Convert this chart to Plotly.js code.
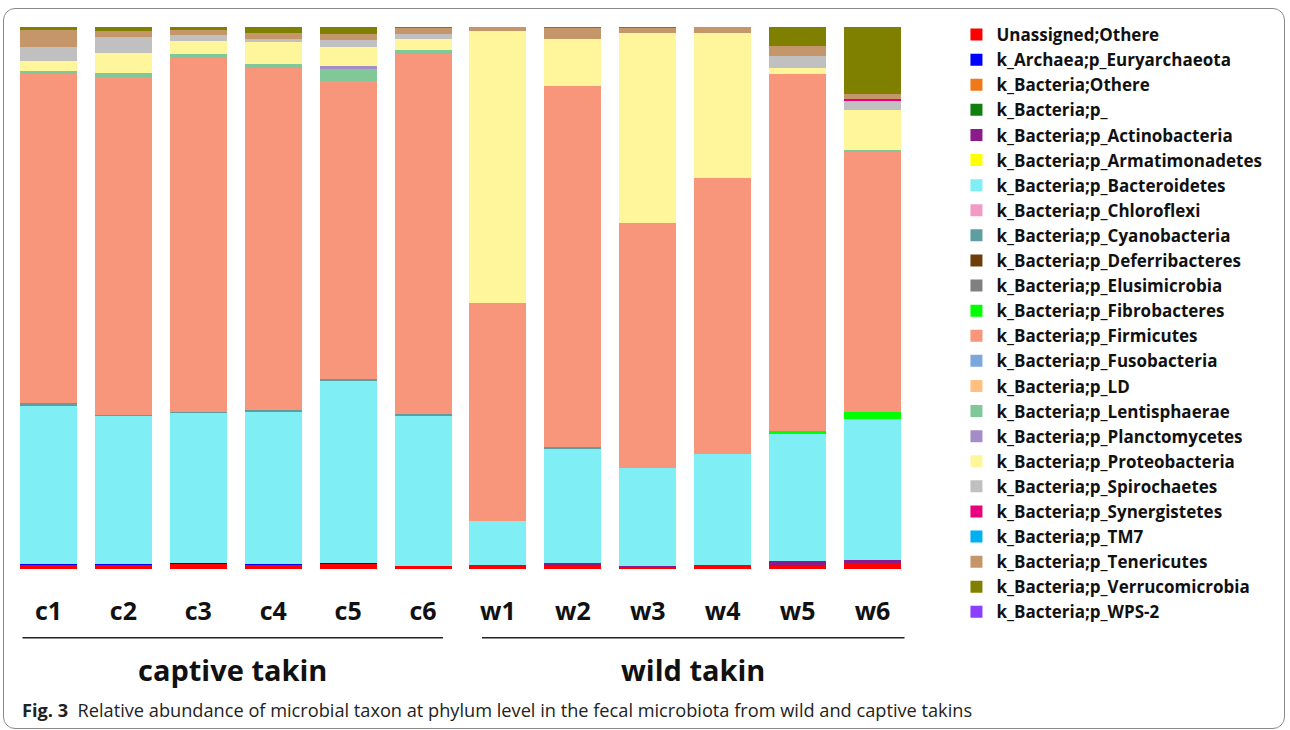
<!DOCTYPE html>
<html>
<head>
<meta charset="utf-8">
<script src="https://cdn.plot.ly/plotly-3.0.1.min.js"></script>
<style>
  html, body { margin: 0; padding: 0; background: #fff; }
  #wrap { position: relative; width: 1290px; height: 730px; }
  #chart { position: absolute; left: 0; top: 0; width: 1290px; height: 730px; }
  #frame { position: absolute; left: 3px; top: 8px; width: 1282px; height: 721px;
           border: 1.5px solid #8a8a8a; border-radius: 12px; box-sizing: border-box; pointer-events: none; }
</style>
</head>
<body>
<div id="wrap">
  <div id="chart"></div>
  <div id="frame"></div>
</div>
<script>
const samples = ['c1','c2','c3','c4','c5','c6','w1','w2','w3','w4','w5','w6'];

const taxa = [
  'Unassigned;Othere',
  'k_Archaea;p_Euryarchaeota',
  'k_Bacteria;Othere',
  'k_Bacteria;p_',
  'k_Bacteria;p_Actinobacteria',
  'k_Bacteria;p_Armatimonadetes',
  'k_Bacteria;p_Bacteroidetes',
  'k_Bacteria;p_Chloroflexi',
  'k_Bacteria;p_Cyanobacteria',
  'k_Bacteria;p_Deferribacteres',
  'k_Bacteria;p_Elusimicrobia',
  'k_Bacteria;p_Fibrobacteres',
  'k_Bacteria;p_Firmicutes',
  'k_Bacteria;p_Fusobacteria',
  'k_Bacteria;p_LD',
  'k_Bacteria;p_Lentisphaerae',
  'k_Bacteria;p_Planctomycetes',
  'k_Bacteria;p_Proteobacteria',
  'k_Bacteria;p_Spirochaetes',
  'k_Bacteria;p_Synergistetes',
  'k_Bacteria;p_TM7',
  'k_Bacteria;p_Tenericutes',
  'k_Bacteria;p_Verrucomicrobia',
  'k_Bacteria;p_WPS-2'
];

const taxaColors = [
  '#ff0000','#0000ff','#f07818','#107f10','#8b1a8b','#ffff00','#7feef5','#f29ac4',
  '#5f9ea0','#6b3e0b','#808080','#00ff00','#f7967a','#7ba7de','#ffc080','#80c898',
  '#a48cc8','#fff59a','#c0c0c0','#e8007e','#00b0f0','#c4966a','#808000','#8a3fff'
];

// relative abundance (%) per sample, order c1..c6, w1..w6
const unassigned      = [0.65,0.65,1.0,0.8,0.85,0.6, 0.6,0.55,0.2,0.5,0.55,1.1];
const euryarchaeota   = [0.2,0.2,0.2,0.2,0.3,0, 0,0,0,0,0,0];
const bacteriaOthere  = [0,0,0,0,0,0, 0,0,0,0,0,0];
const bacteriaP       = [0,0,0,0,0,0, 0,0,0,0,0,0];
const actinobacteria  = [0,0,0,0,0,0, 0.2,0.55,0.3,0.2,0.85,0.6];
const armatimonadetes = [0,0,0,0,0,0, 0,0,0,0,0,0];
const bacteroidetes   = [29.3,27.3,27.5,28.0,33.6,27.7, 8.1,21.1,18.15,20.5,23.55,26.0];
const chloroflexi     = [0,0,0,0,0,0, 0,0,0,0,0,0];
const cyanobacteria   = [0.45,0.3,0.3,0.35,0.35,0.3, 0,0.3,0,0,0,0];
const deferribacteres = [0,0,0,0,0,0, 0,0,0,0,0,0];
const elusimicrobia   = [0,0,0,0,0,0, 0,0,0,0,0,0];
const fibrobacteres   = [0,0,0,0,0,0, 0,0,0,0,0.6,1.35];
const firmicutes      = [60.7,62.4,65.2,63.15,54.9,66.35, 40.2,66.6,45.1,50.9,65.7,47.8];
const fusobacteria    = [0,0,0,0,0,0, 0,0,0,0,0,0];
const ld              = [0,0,0,0,0,0, 0,0,0,0,0,0];
const lentisphaerae   = [0.55,0.7,0.8,0.7,2.3,0.85, 0,0,0,0,0,0.5];
const planctomycetes  = [0,0,0,0,0.5,0, 0,0,0,0,0,0];
const proteobacteria  = [1.9,3.7,2.45,4.0,3.45,2.0, 50.1,8.6,35.2,26.8,1.2,7.4];
const spirochaetes    = [2.6,2.9,1.05,0.55,1.3,0.9, 0,0,0,0,2.2,1.65];
const synergistetes   = [0,0,0,0,0,0, 0,0,0,0,0,0.4];
const tm7             = [0,0,0,0,0,0, 0,0,0,0,0,0];
const tenericutes     = [3.1,1.05,0.9,1.2,1.1,1.15, 0.8,2.1,0.85,1.1,1.85,0.85];
const verrucomicrobia = [0.6,0.8,0.6,1.05,1.35,0.2, 0,0.2,0.2,0,3.5,12.4];
const wps2            = [0,0,0,0,0,0, 0,0,0,0,0,0];

const seriesValues = [unassigned, euryarchaeota, bacteriaOthere, bacteriaP, actinobacteria,
  armatimonadetes, bacteroidetes, chloroflexi, cyanobacteria, deferribacteres, elusimicrobia,
  fibrobacteres, firmicutes, fusobacteria, ld, lentisphaerae, planctomycetes, proteobacteria,
  spirochaetes, synergistetes, tm7, tenericutes, verrucomicrobia, wps2];

const groupLabels = ['captive takin', 'wild takin'];
const captionBold = 'Fig. 3';
const captionText = 'Relative abundance of microbial taxon at phylum level in the fecal microbiota from wild and captive takins';

const traces = taxa.map((name, i) => ({
  type: 'bar',
  name: name,
  x: samples,
  y: seriesValues[i],
  marker: { color: taxaColors[i], line: { width: 0 } },
  hoverinfo: 'x+y+name'
}));

// pixel helpers for the plot area
const W = 1290, H = 730;
const L = 10.5, R = 910.5, T = 27, B = 569.3;
const px = v => (v - L) / (R - L);
const py = v => (B - v) / (B - T);

const layout = {
  width: W, height: H,
  paper_bgcolor: '#ffffff',
  plot_bgcolor: '#ffffff',
  barmode: 'stack',
  bargap: 0.24,
  margin: { l: L, r: W - R, t: T, b: H - B, pad: 0, autoexpand: false },
  font: { family: 'Open Sans, Noto Sans, sans-serif', color: '#111' },
  xaxis: {
    type: 'category',
    range: [-0.5, 11.5],
    showgrid: false, zeroline: false, showline: false,
    ticks: 'outside', ticklen: 20, tickcolor: 'rgba(0,0,0,0)',
    tickfont: { size: 25, weight: 'bold', color: '#111', family: 'Open Sans, sans-serif' }
  },
  yaxis: {
    range: [0, 100],
    visible: false,
    showgrid: false, zeroline: false
  },
  showlegend: true,
  legend: {
    x: px(957), y: py(17), xanchor: 'left', yanchor: 'top',
    traceorder: 'normal',
    maxheight: 700,
    font: { size: 17, weight: 'bold', color: '#111', family: 'Open Sans, sans-serif' },
    bgcolor: 'rgba(0,0,0,0)',
    itemsizing: 'constant',
    tracegroupgap: 0
  },
  shapes: [
    { type: 'line', xref: 'paper', yref: 'paper', x0: px(22), x1: px(443), y0: py(638), y1: py(638),
      line: { color: '#222', width: 1.5 } },
    { type: 'line', xref: 'paper', yref: 'paper', x0: px(482), x1: px(905), y0: py(638), y1: py(638),
      line: { color: '#222', width: 1.5 } }
  ],
  annotations: [
    { xref: 'paper', yref: 'paper', x: px(232), y: py(670), text: groupLabels[0], showarrow: false,
      xanchor: 'center', yanchor: 'middle',
      font: { size: 29, weight: 'bold', color: '#111', family: 'Open Sans, sans-serif' } },
    { xref: 'paper', yref: 'paper', x: px(693), y: py(670), text: groupLabels[1], showarrow: false,
      xanchor: 'center', yanchor: 'middle',
      font: { size: 29, weight: 'bold', color: '#111', family: 'Open Sans, sans-serif' } },
    { xref: 'paper', yref: 'paper', x: px(20), y: py(710), showarrow: false,
      xanchor: 'left', yanchor: 'middle',
      text: '<b>' + captionBold + '</b>  ' + captionText,
      font: { size: 18.2, color: '#222', family: 'Open Sans, sans-serif' } }
  ]
};

Plotly.newPlot('chart', traces, layout, { staticPlot: true, displayModeBar: false });
</script>
</body>
</html>
